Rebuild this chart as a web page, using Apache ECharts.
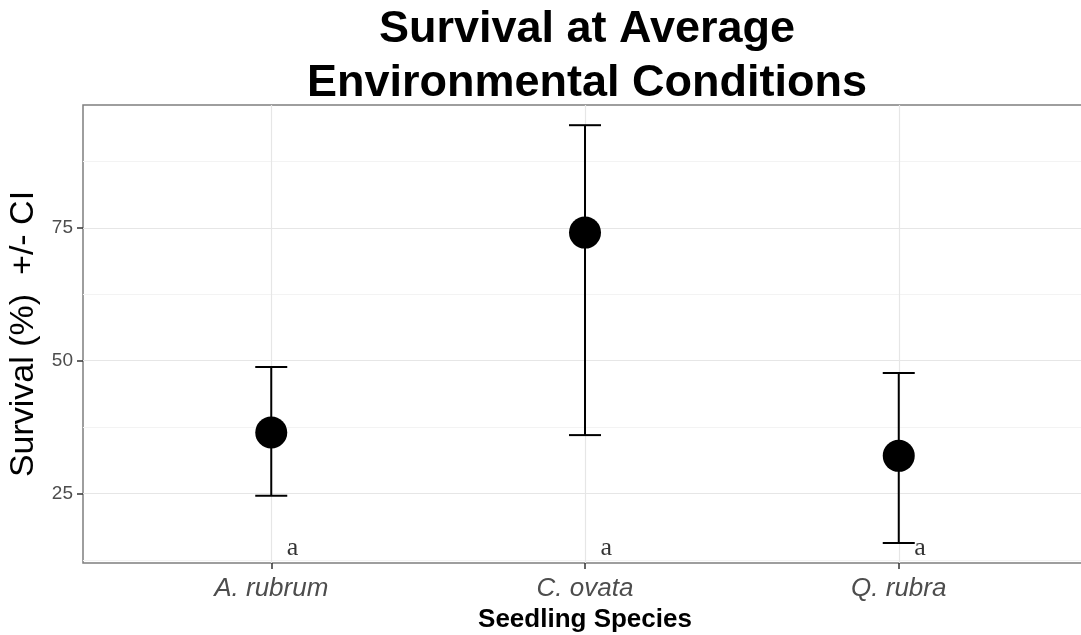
<!DOCTYPE html>
<html>
<head>
<meta charset="utf-8">
<script src="https://cdn.jsdelivr.net/npm/echarts@6/dist/echarts.min.js"></script>
<style>
  html, body { margin: 0; padding: 0; background: #fff; }
  #chart { width: 1081px; height: 635px; }
</style>
</head>
<body>
<div id="chart"></div>
<script>
// data
const species = ['A. rubrum', 'C. ovata', 'Q. rubra'];
const survival = [36.5, 74.1, 32.1];
const ciLow = [24.6, 36.0, 15.7];
const ciHigh = [48.8, 94.3, 47.7];
const letters = ['a', 'a', 'a'];
const yTicks = [25, 50, 75];
const yMinor = [12.5, 37.5, 62.5, 87.5];
const xTicks = [1, 2, 3];

const chart = echarts.init(document.getElementById('chart'), null, { renderer: 'canvas' });

const xPos = species.map((s, i) => i + 1);

const option = {
    backgroundColor: '#fff',
    animation: false,
    title: {
        text: 'Survival at Average\nEnvironmental Conditions',
        left: 587,
        top: 3,
        padding: 0,
        textAlign: 'center',
        textStyle: {
            fontFamily: 'Liberation Sans',
            fontSize: 45,
            fontWeight: 'bold',
            color: '#000',
            lineHeight: 53.5
        }
    },
    grid: {
        left: 83, top: 105, right: -6, bottom: 72,
        outerBoundsMode: 'none',
        show: true, borderColor: '#7f7f7f', borderWidth: 1.5
    },
    xAxis: {
        type: 'value',
        min: 0.4,
        max: 3.6,
        name: 'Seedling Species',
        nameLocation: 'middle',
        nameGap: 40,
        nameTextStyle: { fontFamily: 'Liberation Sans', fontSize: 26, fontWeight: 'bold', color: '#000' },
        axisLine: { show: false },
        axisTick: { show: true, customValues: xTicks, length: 6, lineStyle: { color: '#333', width: 1.5 } },
        axisLabel: {
            customValues: xTicks,
            formatter: v => species[Math.round(v) - 1] || '',
            fontFamily: 'Liberation Sans',
            fontStyle: 'italic',
            fontSize: 26,
            color: '#4d4d4d',
            margin: 13
        },
        splitLine: { show: true, lineStyle: { color: '#e6e6e6', width: 1.2 } }
    },
    yAxis: [
        {
            type: 'value',
            min: 11.94,
            max: 98.1,
            name: 'Survival (%)  +/- CI',
            nameLocation: 'middle',
            nameGap: 36,
            nameTextStyle: { fontFamily: 'Liberation Sans', fontSize: 34, color: '#000' },
            axisLine: { show: false },
            axisTick: { show: true, customValues: yTicks, length: 6, lineStyle: { color: '#333', width: 1.5 } },
            axisLabel: {
                customValues: yTicks,
                fontFamily: 'Liberation Sans',
                fontSize: 19,
                color: '#4d4d4d',
                margin: 10
            },
            splitLine: { show: true, lineStyle: { color: '#e6e6e6', width: 1.2 } }
        },
        {
            type: 'value',
            min: 11.94,
            max: 98.1,
            position: 'left',
            axisLine: { show: false },
            axisTick: { show: false, customValues: yMinor },
            axisLabel: { show: false, customValues: yMinor },
            splitLine: { show: true, lineStyle: { color: '#f3f3f3', width: 1 } }
        }
    ],
    series: [
        {
            type: 'custom',
            name: 'CI',
            data: species.map((s, i) => [xPos[i], ciLow[i], ciHigh[i]]),
            encode: { x: 0, y: [1, 2] },
            z: 3,
            renderItem: (params, api) => {
                const x = api.value(0);
                const lo = api.coord([x, api.value(1)]);
                const hi = api.coord([x, api.value(2)]);
                const half = 16;
                const style = { stroke: '#000', lineWidth: 2 };
                return {
                    type: 'group',
                    children: [
                        { type: 'line', shape: { x1: lo[0], y1: lo[1], x2: hi[0], y2: hi[1] }, style },
                        { type: 'line', shape: { x1: lo[0] - half, y1: lo[1], x2: lo[0] + half, y2: lo[1] }, style },
                        { type: 'line', shape: { x1: hi[0] - half, y1: hi[1], x2: hi[0] + half, y2: hi[1] }, style }
                    ]
                };
            }
        },
        {
            type: 'scatter',
            name: 'Survival',
            data: species.map((s, i) => [xPos[i], survival[i]]),
            symbol: 'circle',
            symbolSize: 32,
            itemStyle: { color: '#000', opacity: 1 },
            z: 4
        },
        {
            type: 'scatter',
            name: 'letters',
            data: species.map((s, i) => ({ value: [xPos[i] + 0.068, 14.8], label: { formatter: letters[i] } })),
            symbolSize: 1,
            itemStyle: { color: 'rgba(0,0,0,0)' },
            label: {
                show: true,
                position: 'inside',
                fontFamily: 'Liberation Serif',
                fontSize: 26,
                color: '#000'
            },
            z: 5
        }
    ]
};

chart.setOption(option);
</script>
</body>
</html>
